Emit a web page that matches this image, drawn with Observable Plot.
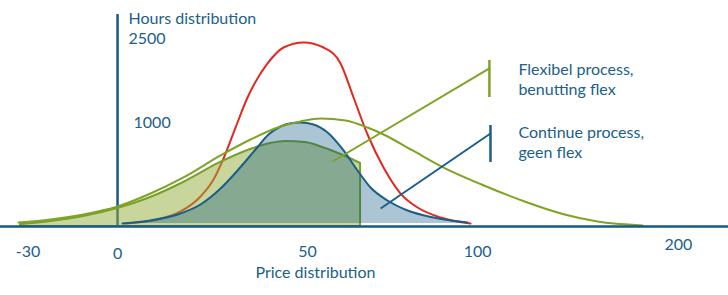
<!DOCTYPE html>
<html><head><meta charset="utf-8">
<script src="https://cdn.jsdelivr.net/npm/d3@7"></script>
<script src="https://cdn.jsdelivr.net/npm/@observablehq/plot@0.6"></script>
<style>html,body{margin:0;padding:0;background:#fff;} svg{display:block;}</style>
</head><body><div id="chart"></div>
<script>
// ---- data (x = price units, y = hours) ----
// red bell curve
const redX = [2.24, 11.18, 17.60, 23.19, 26.82, 29.62, 32.97, 36.32, 41.91, 46.38, 51.97, 57.56, 62.31, 65.94, 69.85, 74.32, 79.07, 83.82, 90.25, 98.63];
const redY = [41, 95, 204, 408, 639, 924, 1345, 1753, 2215, 2432, 2500, 2432, 2215, 1753, 1250, 802, 448, 258, 122, 41];
// blue "continue process" curve
const blueX = [1.40, 9.22, 16.76, 23.19, 28.78, 33.53, 38.56, 42.19, 45.54, 48.90, 51.13, 54.76, 58.68, 63.15, 67.06, 70.69, 75.44, 81.03, 88.29, 97.79];
const blueY = [41, 82, 163, 299, 516, 761, 1046, 1250, 1359, 1406, 1413, 1386, 1277, 1033, 761, 530, 353, 217, 122, 54];
const blueBase = 41;
// wide green "flexibel process" curve
const greenX = [-27.66, -18.72, -9.50, 0, 9.22, 18.44, 28.78, 37.16, 45.54, 51.13, 56.72, 63.71, 69.85, 74.32, 82.43, 90.53, 101.70, 113.72, 124.90, 134.12, 146.69];
const greenY = [54, 95, 163, 272, 448, 666, 965, 1182, 1359, 1427, 1467, 1440, 1345, 1250, 1033, 815, 571, 340, 163, 68, 14];
// truncated green area
const truncX = [-27.10, -18.72, -9.50, 0, 9.22, 18.44, 28.78, 37.16, 42.75, 46.94, 52.53, 58.12, 63.71, 67.90];
const truncY = [27, 68, 136, 245, 394, 598, 870, 1046, 1128, 1155, 1141, 1060, 951, 856];
// pointer lines [x1, y1, x2, y2] and brackets [x, y1, y2]
const greenPointer = [60.1, 883, 103.9, 2147];
const greenBracket = [103.9, 2255, 1753];
const bluePointer = [73.5, 245, 104.2, 1264];
const blueBracket = [104.2, 1372, 870];
// axis extent
const yAxisTop = 2880;
// tick labels
const xTickLabels = ["-30", "0", "50", "100", "200"];
const xTickPos = [-25.0, 0, 53.1, 100.6, 156.7];
const xTickBase = [-421, -435, -408, -421, -326];
const yTickLabels = ["2500", "1000"];
const yTickPosX = [3.07, 4.47];
const yTickPos = [2473, 1345];
// titles / annotations
const yTitle = "Hours distribution";
const yTitlePos = [3.07, 2745];
const xTitle = "Price distribution";
const xTitlePos = [55.3, -693];
const notes = ["Flexibel process,\nbenutting flex", "Continue process,\ngeen flex"];
const noteX = [112.0, 112.0];
const noteY = [1780, 924];

// ---- build tables ----
const rows = (xs, ys) => xs.map((x, i) => ({x, y: ys[i]}));
const red = rows(redX, redY);
const blue = rows(blueX, blueY);
const green = rows(greenX, greenY);
const trunc = rows(truncX, truncY);
const xTicks = xTickLabels.map((t, i) => ({t, x: xTickPos[i], y: xTickBase[i]}));
const yTicks = yTickLabels.map((t, i) => ({t, x: yTickPosX[i], y: yTickPos[i]}));
const noteRows = notes.map((t, i) => ({t, x: noteX[i], y: noteY[i]}));
const pointers = [
  {x1: greenPointer[0], y1: greenPointer[1], x2: greenPointer[2], y2: greenPointer[3], c: "green"},
  {x1: bluePointer[0], y1: bluePointer[1], x2: bluePointer[2], y2: bluePointer[3], c: "blue"}
];
const brackets = [
  {x: greenBracket[0], y1: greenBracket[1], y2: greenBracket[2], c: "green"},
  {x: blueBracket[0], y1: blueBracket[1], y2: blueBracket[2], c: "blue"}
];

const AXIS = "#175983", TEXT = "#20608a", RED = "#e4281f", BLUE = "#1b5e88", OLIVE = "#7fa324", OLIVE_DARK = "#76a02c";
const colorOf = c => c === "green" ? OLIVE : BLUE;
const font = {fontFamily: "Lato, 'Open Sans', sans-serif", fontSize: 16, fill: TEXT, lineAnchor: "bottom"};
const curve = "monotone-x";

const chart = Plot.plot({
  width: 728,
  height: 295,
  margin: 0,
  x: {domain: [-32.7, 170.7], axis: null},
  y: {domain: [-937.5, 3070.7], axis: null},
  style: {background: "#fff"},
  marks: [
    Plot.ruleX([0], {y1: 0, y2: yAxisTop, stroke: AXIS, strokeWidth: 2.5}),
    Plot.line(red, {x: "x", y: "y", stroke: RED, strokeWidth: 2, curve}),
    Plot.areaY(trunc, {x: "x", y1: 0, y2: "y", fill: "#94ad3a", fillOpacity: 0.51, stroke: OLIVE_DARK, strokeWidth: 2, curve}),
    Plot.areaY(blue, {x: "x", y1: blueBase, y2: "y", fill: "#004f7f", fillOpacity: 0.33, curve}),
    Plot.line(blue, {x: "x", y: "y", stroke: BLUE, strokeWidth: 2, curve}),
    Plot.line(green, {x: "x", y: "y", stroke: OLIVE, strokeWidth: 2, curve}),
    Plot.link(pointers, {x1: "x1", y1: "y1", x2: "x2", y2: "y2", stroke: d => colorOf(d.c), strokeWidth: 2}),
    Plot.ruleX(brackets, {x: "x", y1: "y1", y2: "y2", stroke: d => colorOf(d.c), strokeWidth: 2.5}),
    Plot.ruleY([0], {stroke: AXIS, strokeWidth: 2.5}),
    Plot.text(xTicks, {x: "x", y: "y", text: "t", textAnchor: "middle", ...font}),
    Plot.text(yTicks, {x: "x", y: "y", text: "t", textAnchor: "start", ...font}),
    Plot.text([yTitle], {x: yTitlePos[0], y: yTitlePos[1], text: d => d, textAnchor: "start", ...font}),
    Plot.text([xTitle], {x: xTitlePos[0], y: xTitlePos[1], text: d => d, textAnchor: "middle", ...font}),
    Plot.text(noteRows, {x: "x", y: "y", text: "t", textAnchor: "start", lineHeight: 1.25, ...font})
  ]
});
document.getElementById("chart").appendChild(chart);
</script></body></html>
